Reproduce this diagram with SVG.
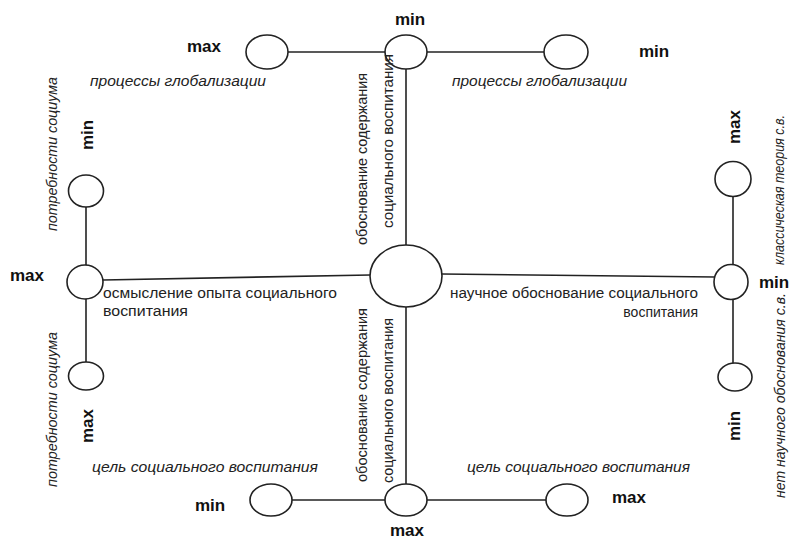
<svg xmlns="http://www.w3.org/2000/svg" width="794" height="539" viewBox="0 0 794 539">
<style>
.n{fill:#fff;stroke:#222;stroke-width:1.6}
.c line{stroke:#222;stroke-width:1.6}
.b{font-family:"Liberation Sans",Arial,sans-serif;font-weight:bold;font-size:17px;fill:#111}
.t{font-family:"Liberation Sans",Arial,sans-serif;font-size:14px;fill:#222}
.i{font-family:"Liberation Sans",Arial,sans-serif;font-style:italic;font-size:14px;fill:#222}
</style>
<rect width="794" height="539" fill="#fff"/>
<g id="connectors" class="c">
<line x1="288" y1="52" x2="385" y2="52"/>
<line x1="427" y1="52" x2="544" y2="52"/>
<line x1="406" y1="69" x2="406" y2="245"/>
<line x1="406" y1="307" x2="406" y2="485"/>
<line x1="292" y1="500" x2="385" y2="500"/>
<line x1="427" y1="500" x2="546" y2="500"/>
<line x1="103" y1="280" x2="370" y2="275"/>
<line x1="442" y1="274" x2="715" y2="277"/>
<line x1="86" y1="207" x2="86" y2="265"/>
<line x1="86" y1="299" x2="86" y2="362"/>
<line x1="733" y1="197" x2="733" y2="265"/>
<line x1="733" y1="300" x2="733" y2="363"/>
</g>
<g id="center"><ellipse class="n" cx="406" cy="276" rx="36" ry="31"/></g>
<g id="top-left"><ellipse class="n" cx="267" cy="52" rx="21" ry="17"/></g>
<g id="top-mid"><ellipse class="n" cx="406" cy="52" rx="21" ry="17"/></g>
<g id="top-right"><ellipse class="n" cx="566" cy="52" rx="22" ry="17"/></g>
<g id="bot-left"><ellipse class="n" cx="271" cy="500" rx="21" ry="16"/></g>
<g id="bot-mid"><ellipse class="n" cx="406" cy="500" rx="21" ry="16"/></g>
<g id="bot-right"><ellipse class="n" cx="567" cy="500" rx="21" ry="16"/></g>
<g id="left-top"><ellipse class="n" cx="86" cy="191" rx="17.5" ry="16"/></g>
<g id="left-mid"><ellipse class="n" cx="85" cy="282" rx="18" ry="17"/></g>
<g id="left-bot"><ellipse class="n" cx="86" cy="376" rx="17.5" ry="14"/></g>
<g id="right-top"><ellipse class="n" cx="733" cy="179" rx="18" ry="17.5"/></g>
<g id="right-mid"><ellipse class="n" cx="731" cy="282" rx="17" ry="17.5"/></g>
<g id="right-bot"><ellipse class="n" cx="735" cy="377" rx="17" ry="14"/></g>
<g id="labels">
<text class="b" x="410" y="25" text-anchor="middle">min</text>
<text class="b" x="187" y="52">max</text>
<text class="b" x="639" y="57">min</text>
<text class="b" x="195" y="511">min</text>
<text class="b" x="407" y="536" text-anchor="middle">max</text>
<text class="b" x="612" y="503">max</text>
<text class="b" x="10" y="281">max</text>
<text class="b" x="759" y="288">min</text>
<text class="b" transform="translate(93,150) rotate(-90)">min</text>
<text class="b" transform="translate(93,443) rotate(-90)">max</text>
<text class="b" transform="translate(740,144) rotate(-90)">max</text>
<text class="b" transform="translate(740,441) rotate(-90)">min</text>
<text class="i" x="90" y="86" textLength="176" lengthAdjust="spacingAndGlyphs">процессы глобализации</text>
<text class="i" x="452" y="86" textLength="175" lengthAdjust="spacingAndGlyphs">процессы глобализации</text>
<text class="i" x="92" y="472" textLength="226" lengthAdjust="spacingAndGlyphs">цель социального воспитания</text>
<text class="i" x="467" y="472" textLength="223" lengthAdjust="spacingAndGlyphs">цель социального воспитания</text>
<text class="t" x="103" y="298" textLength="234" lengthAdjust="spacingAndGlyphs">осмысление опыта социального</text>
<text class="t" x="103" y="316" textLength="85" lengthAdjust="spacingAndGlyphs">воспитания</text>
<text class="t" x="450" y="298" textLength="248" lengthAdjust="spacingAndGlyphs">научное обоснование социального</text>
<text class="t" x="698" y="317" text-anchor="end">воспитания</text>
<text class="i" transform="translate(57,231) rotate(-90)" textLength="154" lengthAdjust="spacingAndGlyphs">потребности социума</text>
<text class="i" transform="translate(57,487) rotate(-90)" textLength="155" lengthAdjust="spacingAndGlyphs">потребности социума</text>
<text class="t" transform="translate(367,245) rotate(-90)" textLength="172" lengthAdjust="spacingAndGlyphs">обоснование содержания</text>
<text class="t" transform="translate(393,228) rotate(-90)" textLength="174" lengthAdjust="spacingAndGlyphs">социального воспитания</text>
<text class="t" transform="translate(367,482) rotate(-90)" textLength="174" lengthAdjust="spacingAndGlyphs">обоснование содержания</text>
<text class="t" transform="translate(393,483) rotate(-90)" textLength="165" lengthAdjust="spacingAndGlyphs">социального воспитания</text>
<text class="i" transform="translate(784,265) rotate(-90)" textLength="150" lengthAdjust="spacingAndGlyphs">классическая теория с.в.</text>
<text class="i" transform="translate(785,498) rotate(-90)" textLength="205" lengthAdjust="spacingAndGlyphs">нет научного обоснования с.в.</text>
</g>
</svg>
